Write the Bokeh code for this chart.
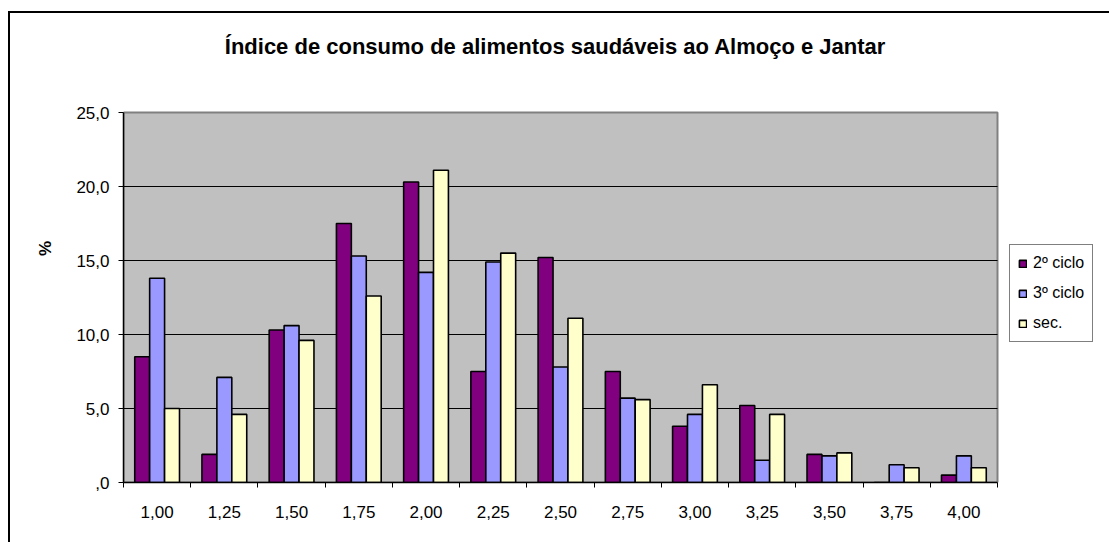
from bokeh.plotting import figure
from bokeh.models import (Range1d, FixedTicker, Legend, LegendItem, Label,
                          ColumnDataSource, GlobalInlineStyleSheet)
from bokeh.transform import dodge
from bokeh.embed import file_html
from bokeh.resources import INLINE

# ---- data ----
categories = ["1,00", "1,25", "1,50", "1,75", "2,00", "2,25", "2,50",
              "2,75", "3,00", "3,25", "3,50", "3,75", "4,00"]
ciclo2 = [8.5, 1.9, 10.3, 17.5, 20.3, 7.5, 15.2, 7.5, 3.8, 5.2, 1.9, 0.0, 0.5]
ciclo3 = [13.8, 7.1, 10.6, 15.3, 14.2, 14.9, 7.8, 5.7, 4.6, 1.5, 1.8, 1.2, 1.8]
sec = [5.0, 4.6, 9.6, 12.6, 21.1, 15.5, 11.1, 5.6, 6.6, 4.6, 2.0, 1.0, 1.0]
series_names = ["2º ciclo", "3º ciclo", "sec."]
series_colors = ["#800080", "#9999FF", "#FFFFCC"]
y_ticks = [0, 5, 10, 15, 20, 25]
y_tick_labels = [",0", "5,0", "10,0", "15,0", "20,0", "25,0"]
title_text = "Índice de consumo de alimentos saudáveis ao Almoço e Jantar"
y_label = "%"

FONT = "Liberation Sans"
W, H = 1100, 540
n = len(categories)
y_max = y_ticks[-1]
bw = 0.222

# geometry (pixels): plot area spans x 123..997, y 112..482
PX_PER_X = (997 - 123) / n
PX_PER_Y = (482 - 112) / y_max
FRAME_TOP = 14
x_end = n + (W - 997) / PX_PER_X
y_end = y_max + (112 - FRAME_TOP) / PX_PER_Y

p = figure(width=W, height=H, output_backend="svg", toolbar_location=None,
           x_range=Range1d(0, x_end), y_range=Range1d(0, y_end),
           min_border_left=123, min_border_right=0,
           min_border_top=FRAME_TOP, min_border_bottom=H - 482,
           background_fill_color="white", border_fill_color="white",
           outline_line_color=None)

# outer chart border (top-left corner of the chart area), drawn as page overlay
p.stylesheets = [GlobalInlineStyleSheet(css=(
    "body::after { content: ''; position: fixed; left: 8px; top: 11px; "
    "width: 3000px; height: 3000px; border-left: 2px solid #000; "
    "border-top: 2px solid #000; pointer-events: none; z-index: 1000; }"))]

# grey plot area with its grey top/right border
p.quad(left=[0], right=[n], bottom=[0], top=[y_max], fill_color="#C0C0C0",
       line_color="#808080", line_width=2)

# horizontal grid lines
grid_vals = [t for t in y_ticks if 0 < t < y_max]
p.segment(x0=[0] * len(grid_vals), x1=[n] * len(grid_vals), y0=grid_vals, y1=grid_vals,
          line_color="black", line_width=1)

centers = [i + 0.5 for i in range(n)]
src = ColumnDataSource(dict(x=centers, c2=ciclo2, c3=ciclo3, sec=sec))

renderers = []
for off, col, color in zip([-bw, 0.0, bw], ["c2", "c3", "sec"], series_colors):
    r = p.vbar(x=dodge("x", off, range=p.x_range), top=col, width=bw, source=src,
               fill_color=color, line_color="black", line_width=1.6)
    renderers.append(r)

p.grid.visible = False

# y axis
ya = p.yaxis[0]
ya.bounds = (0, y_max)
ya.ticker = FixedTicker(ticks=y_ticks)
ya.major_label_overrides = {t: l for t, l in zip(y_ticks, y_tick_labels)}
ya.major_tick_out = 5
ya.major_tick_in = 0
ya.minor_tick_line_color = None
ya.major_tick_line_color = "black"
ya.axis_line_color = "black"
ya.axis_line_width = 1.5
ya.major_label_text_font = FONT
ya.major_label_text_font_size = "17px"
ya.major_label_text_color = "black"
ya.major_label_standoff = 9
ya.axis_label = y_label
ya.axis_label_text_font = FONT
ya.axis_label_text_font_style = "bold"
ya.axis_label_text_font_size = "17px"
ya.axis_label_text_color = "black"
ya.axis_label_standoff = 18

# x axis
xa = p.xaxis[0]
xa.bounds = (0, n)
xa.ticker = FixedTicker(ticks=centers, minor_ticks=list(range(n + 1)))
xa.major_label_overrides = {c: l for c, l in zip(centers, categories)}
xa.major_tick_line_color = None
xa.major_tick_out = 0
xa.major_tick_in = 0
xa.minor_tick_line_color = "black"
xa.minor_tick_out = 5
xa.minor_tick_in = 0
xa.axis_line_color = "black"
xa.axis_line_width = 1.5
xa.major_label_text_font = FONT
xa.major_label_text_font_size = "17px"
xa.major_label_text_color = "black"
xa.major_label_standoff = 18

# legend, inside the (extended) frame, to the right of the plot area
items = [LegendItem(label=nm, renderers=[r]) for nm, r in zip(series_names, renderers)]
legend = Legend(items=items, location=(1009 - 123, 482 - 342),
                border_line_color="black", border_line_width=1,
                background_fill_color="white", background_fill_alpha=1,
                label_text_font=FONT, label_text_font_size="16px",
                label_text_color="black",
                glyph_width=9, glyph_height=9, label_standoff=6,
                label_height=20, spacing=10, padding=8, margin=0)
p.add_layout(legend)

# chart title
p.add_layout(Label(x=(555 - 123) / PX_PER_X, y=(482 - 46) / PX_PER_Y, text=title_text,
                   text_align="center", text_baseline="middle", text_font=FONT,
                   text_font_style="bold", text_font_size="22px", text_color="black"))

open("out.html", "w").write(file_html(p, INLINE))
